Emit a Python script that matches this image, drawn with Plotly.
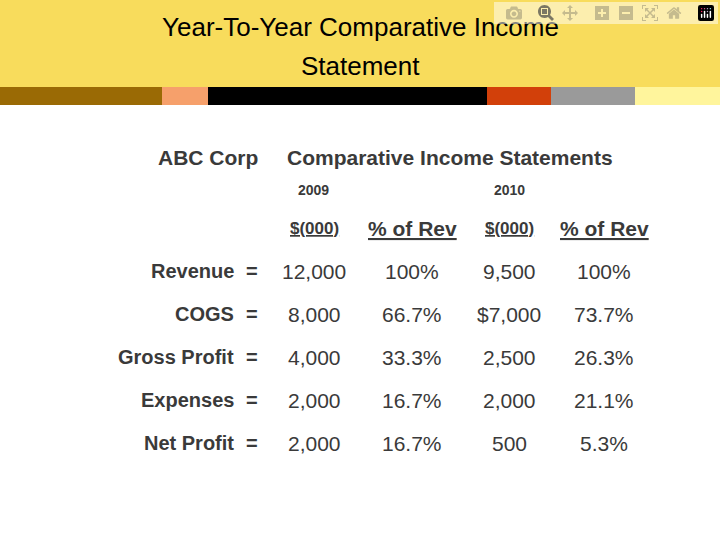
import plotly.graph_objects as go

title_lines = ["Year-To-Year Comparative Income", "Statement"]
row_labels = ["Revenue", "COGS", "Gross Profit", "Expenses", "Net Profit"]
v2009 = ["12,000", "8,000", "4,000", "2,000", "2,000"]
p2009 = ["100%", "66.7%", "33.3%", "16.7%", "16.7%"]
v2010 = ["9,500", "$7,000", "2,500", "2,000", "500"]
p2010 = ["100%", "73.7%", "26.3%", "21.1%", "5.3%"]
years = ["2009", "2010"]
col_heads = ["$(000)", "% of Rev", "$(000)", "% of Rev"]

W, H = 720, 540
def px(x): return x / W
def py(y): return 1 - y / H

fig = go.Figure()
shapes = [dict(type="rect", xref="paper", yref="paper", x0=0, x1=1, y0=py(87), y1=1,
               fillcolor="#F8DC5C", line_width=0, layer="below")]
stripes = [(0, 162, "#9A6A05"), (162, 208, "#F6A06B"), (208, 487, "#000000"),
           (487, 551, "#D2400A"), (551, 635, "#9A9A9A"), (635, 720, "#FFF59C")]
for a, b, c in stripes:
    shapes.append(dict(type="rect", xref="paper", yref="paper", x0=px(a), x1=px(b),
                       y0=py(105), y1=py(87), fillcolor=c, line_width=0))

ann = []
FONT = "Liberation Sans Narrow, Liberation Sans, Arial, sans-serif"
def t(x, y, s, size=22, anchor="center", color="#3A3A3A", font=FONT, bold=True):
    ann.append(dict(x=px(x), y=py(y), xref="paper", yref="paper", text=(f"<b>{s}</b>" if bold else s),
                    showarrow=False, xanchor=anchor, yanchor="middle",
                    font=dict(size=size, color=color, family=font)))

t(360, 27, title_lines[0], 26, color="#000", font="Liberation Sans, Arial", bold=False)
t(360, 66, title_lines[1], 26, color="#000", font="Liberation Sans, Arial", bold=False)
t(208, 157, "ABC Corp", 21)
t(450, 157, "Comparative Income Statements", 21)
t(313, 190, years[0], 14)
t(509, 190, years[1], 14)
cols = [314, 412, 509, 604]
for x, h in zip(cols, col_heads):
    t(x, 228, f"<u>{h}</u>", 17 if "%" not in h else 21)
rows_y = [271, 314, 357, 400, 443]
for i, y in enumerate(rows_y):
    t(236, y, row_labels[i], 20, anchor="right")
    t(252, y, "=", 20)
    for x, arr in zip(cols, [v2009, p2009, v2010, p2010]):
        t(x, y, arr[i], 21, bold=False)

fig.update_layout(width=W, height=H, margin=dict(l=0, r=0, t=0, b=0),
                  paper_bgcolor="white", plot_bgcolor="white",
                  xaxis=dict(visible=False), yaxis=dict(visible=False),
                  shapes=shapes, annotations=ann, showlegend=False)
fig.write_html("out.html")
with open("out.html", encoding="utf-8") as f:
    html = f.read()
html = html.replace("<body>", '<body style="margin:0">', 1)
with open("out.html", "w", encoding="utf-8") as f:
    f.write(html)
